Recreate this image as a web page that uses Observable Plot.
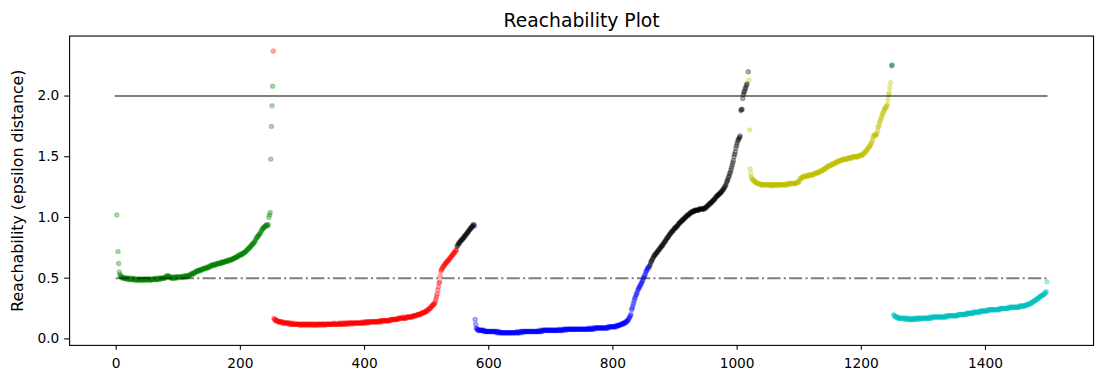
<!DOCTYPE html>
<html>
<head>
<meta charset="utf-8">
<script src="https://cdn.jsdelivr.net/npm/d3@7"></script>
<script src="https://cdn.jsdelivr.net/npm/@observablehq/plot@0.6"></script>
<style>
  html, body { margin: 0; padding: 0; background: #fff; overflow: hidden; }
  #chart { width: 1096px; height: 374px; overflow: hidden; }
</style>
</head>
<body>
<div id="chart"></div>
<script>
// ---- data (reachability values in OPTICS ordering) ----
const chartTitle = "Reachability Plot";
const yLabel = "Reachability (epsilon distance)";
const xTicks = [0, 200, 400, 600, 800, 1000, 1200, 1400];
const yTicks = [0.0, 0.5, 1.0, 1.5, 2.0];
const thresholdSolid = [2.0];
const thresholdDashDot = [0.5];
const thresholdSpan = [0, 1499];

const clusterKeys = ["green", "red", "blue", "yellow", "cyan", "noise"];
const clusterColors = ["#008000", "#ff0000", "#0000ff", "#bfbf00", "#00bfbf", "#000000"];

const greenStart = 6;
const greenReach = [
0.53,0.52,0.51,0.51,0.50,0.51,0.50,0.50,0.50,0.50,
0.50,0.49,0.50,0.50,0.49,0.50,0.49,0.49,0.50,0.49,
0.49,0.49,0.49,0.50,0.49,0.48,0.49,0.49,0.49,0.48,
0.49,0.49,0.49,0.48,0.49,0.49,0.49,0.48,0.49,0.49,
0.49,0.49,0.48,0.49,0.49,0.49,0.49,0.49,0.49,0.48,
0.49,0.49,0.49,0.49,0.49,0.49,0.50,0.49,0.49,0.49,
0.49,0.50,0.49,0.50,0.50,0.49,0.50,0.50,0.50,0.50,
0.50,0.50,0.51,0.50,0.51,0.51,0.52,0.52,0.52,0.51,
0.51,0.51,0.50,0.51,0.50,0.50,0.51,0.50,0.50,0.51,
0.51,0.51,0.50,0.51,0.51,0.51,0.51,0.51,0.51,0.51,
0.51,0.51,0.51,0.52,0.51,0.51,0.52,0.52,0.51,0.52,
0.52,0.52,0.52,0.53,0.53,0.53,0.54,0.53,0.54,0.54,
0.54,0.55,0.55,0.55,0.56,0.56,0.56,0.56,0.57,0.56,
0.57,0.57,0.57,0.57,0.58,0.58,0.58,0.58,0.58,0.59,
0.58,0.59,0.59,0.59,0.59,0.60,0.60,0.60,0.61,0.61,
0.60,0.61,0.61,0.61,0.61,0.62,0.61,0.62,0.62,0.62,
0.62,0.62,0.63,0.62,0.63,0.63,0.63,0.63,0.63,0.64,
0.64,0.64,0.64,0.64,0.64,0.65,0.65,0.65,0.65,0.65,
0.65,0.66,0.66,0.66,0.66,0.67,0.67,0.67,0.67,0.68,
0.68,0.68,0.69,0.69,0.69,0.69,0.70,0.70,0.70,0.71,
0.71,0.71,0.72,0.72,0.73,0.73,0.74,0.74,0.75,0.75,
0.76,0.76,0.77,0.78,0.78,0.79,0.79,0.80,0.81,0.82,
0.83,0.84,0.84,0.85,0.86,0.86,0.87,0.88,0.89,0.90,
0.91,0.91,0.92,0.92,0.93,0.93,0.94,0.94,0.93,0.94,
1.00,1.02,1.04
];

const redStart = 254;
const redReach = [
0.17,0.16,0.16,0.15,0.15,0.15,0.15,0.14,0.14,0.14,
0.14,0.14,0.14,0.13,0.14,0.13,0.13,0.13,0.13,0.13,
0.13,0.13,0.13,0.13,0.12,0.13,0.13,0.12,0.12,0.12,
0.12,0.13,0.12,0.12,0.12,0.12,0.12,0.12,0.12,0.12,
0.12,0.12,0.11,0.12,0.12,0.12,0.11,0.12,0.12,0.12,
0.12,0.11,0.12,0.12,0.12,0.11,0.12,0.12,0.12,0.12,
0.11,0.12,0.12,0.12,0.11,0.12,0.12,0.11,0.12,0.12,
0.12,0.11,0.12,0.12,0.12,0.12,0.11,0.12,0.12,0.12,
0.12,0.12,0.11,0.12,0.12,0.12,0.12,0.12,0.12,0.12,
0.12,0.12,0.12,0.12,0.12,0.12,0.12,0.13,0.12,0.12,
0.12,0.12,0.12,0.12,0.12,0.13,0.12,0.12,0.12,0.13,
0.12,0.12,0.13,0.12,0.13,0.12,0.12,0.13,0.13,0.12,
0.13,0.13,0.12,0.13,0.13,0.13,0.13,0.12,0.13,0.13,
0.13,0.13,0.13,0.13,0.13,0.13,0.13,0.13,0.13,0.13,
0.13,0.13,0.13,0.14,0.13,0.13,0.13,0.14,0.13,0.14,
0.13,0.14,0.14,0.13,0.14,0.14,0.14,0.14,0.14,0.14,
0.14,0.14,0.14,0.14,0.14,0.14,0.14,0.14,0.14,0.15,
0.14,0.14,0.15,0.14,0.15,0.15,0.15,0.15,0.15,0.15,
0.15,0.15,0.15,0.15,0.15,0.15,0.15,0.16,0.15,0.16,
0.16,0.16,0.16,0.16,0.16,0.16,0.16,0.16,0.16,0.17,
0.16,0.17,0.17,0.17,0.17,0.17,0.17,0.17,0.18,0.17,
0.17,0.17,0.17,0.18,0.17,0.18,0.18,0.18,0.18,0.18,
0.18,0.18,0.18,0.18,0.19,0.19,0.19,0.19,0.19,0.19,
0.19,0.20,0.20,0.20,0.20,0.20,0.20,0.21,0.21,0.21,
0.21,0.22,0.22,0.22,0.22,0.23,0.23,0.23,0.24,0.24,
0.25,0.25,0.25,0.26,0.27,0.27,0.28,0.28,0.29,0.29,
0.31,0.33,0.35,0.37,0.40,0.43,0.46,0.47,0.52,0.56,
0.57,0.58,0.59,0.60,0.60,0.61,0.62,0.62,0.63,0.64,
0.64,0.65,0.65,0.66,0.67,0.67,0.68,0.69,0.69,0.70,
0.71,0.71,0.72,0.73,0.73
];

const blueStart = 578;
const blueReach = [
0.16,0.12,0.09,0.08,0.08,0.07,0.07,0.07,0.07,0.07,
0.07,0.07,0.07,0.07,0.06,0.07,0.06,0.06,0.06,0.06,
0.06,0.06,0.06,0.06,0.06,0.06,0.06,0.06,0.06,0.06,
0.06,0.06,0.06,0.06,0.05,0.06,0.06,0.05,0.05,0.06,
0.05,0.05,0.05,0.05,0.05,0.05,0.05,0.05,0.05,0.05,
0.05,0.05,0.05,0.05,0.05,0.05,0.05,0.05,0.05,0.05,
0.05,0.05,0.05,0.05,0.05,0.05,0.05,0.06,0.05,0.05,
0.05,0.05,0.06,0.05,0.06,0.06,0.06,0.05,0.06,0.06,
0.06,0.06,0.06,0.06,0.06,0.06,0.06,0.06,0.06,0.06,
0.06,0.06,0.06,0.06,0.06,0.06,0.06,0.06,0.06,0.06,
0.06,0.06,0.06,0.07,0.06,0.06,0.06,0.07,0.06,0.07,
0.07,0.07,0.07,0.07,0.07,0.07,0.07,0.07,0.07,0.07,
0.07,0.07,0.07,0.07,0.07,0.07,0.07,0.07,0.07,0.07,
0.07,0.07,0.07,0.07,0.07,0.07,0.08,0.07,0.07,0.07,
0.07,0.07,0.08,0.07,0.08,0.08,0.08,0.07,0.08,0.08,
0.08,0.08,0.08,0.08,0.08,0.08,0.08,0.08,0.08,0.08,
0.08,0.08,0.08,0.08,0.08,0.08,0.08,0.08,0.08,0.08,
0.08,0.08,0.08,0.08,0.08,0.08,0.08,0.08,0.08,0.08,
0.08,0.08,0.08,0.09,0.08,0.08,0.08,0.08,0.09,0.08,
0.08,0.09,0.08,0.09,0.09,0.09,0.09,0.09,0.09,0.09,
0.09,0.09,0.09,0.09,0.09,0.09,0.09,0.09,0.09,0.09,
0.09,0.09,0.09,0.09,0.10,0.09,0.10,0.10,0.10,0.10,
0.10,0.10,0.10,0.10,0.10,0.10,0.10,0.11,0.10,0.11,
0.11,0.11,0.11,0.11,0.12,0.12,0.12,0.12,0.12,0.13,
0.13,0.13,0.13,0.14,0.14,0.15,0.15,0.16,0.17,0.18,
0.19,0.20,0.24,0.25,0.27,0.29,0.31,0.33,0.34,0.36,
0.37,0.38,0.40,0.41,0.42,0.43,0.44,0.45,0.46,0.47,
0.48,0.50,0.51,0.52,0.53,0.55,0.56,0.57,0.58,0.59,
0.59,0.60
];

const yellowStart = 1021;
const yellowReach = [
1.40,1.36,1.33,1.32,1.31,1.31,1.30,1.30,1.29,1.29,
1.29,1.28,1.28,1.28,1.28,1.28,1.27,1.27,1.27,1.27,
1.27,1.27,1.27,1.27,1.27,1.27,1.27,1.27,1.27,1.27,
1.27,1.27,1.26,1.27,1.27,1.27,1.26,1.27,1.27,1.27,
1.27,1.27,1.27,1.26,1.27,1.27,1.27,1.27,1.27,1.27,
1.27,1.27,1.27,1.27,1.27,1.27,1.27,1.27,1.27,1.28,
1.27,1.28,1.27,1.28,1.28,1.28,1.28,1.28,1.28,1.28,
1.28,1.28,1.28,1.28,1.28,1.29,1.29,1.29,1.29,1.30,
1.31,1.32,1.32,1.33,1.33,1.33,1.34,1.34,1.34,1.34,
1.34,1.34,1.34,1.35,1.34,1.35,1.35,1.35,1.35,1.35,
1.35,1.35,1.36,1.36,1.36,1.36,1.36,1.37,1.37,1.37,
1.37,1.37,1.38,1.38,1.38,1.38,1.39,1.39,1.39,1.40,
1.40,1.40,1.41,1.41,1.42,1.42,1.42,1.42,1.43,1.43,
1.43,1.43,1.44,1.44,1.44,1.44,1.45,1.45,1.45,1.45,
1.46,1.46,1.46,1.46,1.47,1.47,1.47,1.47,1.47,1.48,
1.48,1.48,1.48,1.48,1.48,1.48,1.48,1.49,1.49,1.49,
1.49,1.49,1.49,1.49,1.49,1.50,1.50,1.50,1.50,1.50,
1.50,1.50,1.50,1.50,1.50,1.51,1.51,1.51,1.51,1.51,
1.51,1.52,1.52,1.53,1.53,1.54,1.54,1.55,1.56,1.56,
1.57,1.58,1.58,1.59,1.60,1.61,1.62,1.64,1.66,1.67,
1.68,1.68,1.68,1.68,1.69,1.71,1.74,1.75,1.77,1.79,
1.80,1.82,1.83,1.85,1.86,1.87,1.89,1.90,1.90,1.91,
1.92,1.93,1.97,2.01,2.03,2.07,2.11
];

const cyanStart = 1252;
const cyanReach = [
0.20,0.19,0.19,0.18,0.18,0.18,0.18,0.17,0.17,0.17,
0.17,0.17,0.17,0.17,0.17,0.17,0.17,0.16,0.17,0.17,
0.16,0.17,0.16,0.17,0.16,0.16,0.17,0.16,0.16,0.16,
0.17,0.16,0.16,0.17,0.16,0.17,0.16,0.17,0.17,0.16,
0.17,0.17,0.17,0.16,0.17,0.17,0.17,0.17,0.17,0.17,
0.17,0.17,0.17,0.17,0.17,0.17,0.17,0.17,0.18,0.17,
0.17,0.18,0.17,0.18,0.18,0.18,0.18,0.18,0.18,0.18,
0.18,0.18,0.18,0.18,0.18,0.18,0.18,0.18,0.18,0.18,
0.18,0.18,0.18,0.18,0.19,0.18,0.19,0.18,0.19,0.19,
0.19,0.19,0.19,0.19,0.19,0.19,0.19,0.19,0.19,0.19,
0.19,0.19,0.19,0.20,0.19,0.20,0.20,0.20,0.20,0.20,
0.20,0.20,0.20,0.20,0.20,0.20,0.20,0.21,0.20,0.21,
0.21,0.21,0.21,0.21,0.21,0.21,0.21,0.21,0.22,0.21,
0.22,0.22,0.22,0.22,0.22,0.22,0.22,0.22,0.22,0.23,
0.22,0.23,0.23,0.23,0.23,0.23,0.23,0.23,0.23,0.23,
0.23,0.24,0.23,0.24,0.24,0.24,0.24,0.24,0.24,0.24,
0.24,0.24,0.24,0.24,0.24,0.24,0.24,0.24,0.24,0.24,
0.25,0.24,0.25,0.25,0.25,0.25,0.25,0.25,0.25,0.25,
0.25,0.25,0.25,0.25,0.25,0.26,0.25,0.26,0.26,0.26,
0.26,0.26,0.26,0.26,0.26,0.26,0.26,0.26,0.26,0.26,
0.26,0.26,0.27,0.26,0.27,0.27,0.27,0.27,0.27,0.27,
0.27,0.27,0.27,0.28,0.28,0.28,0.28,0.28,0.29,0.29,
0.29,0.29,0.30,0.30,0.30,0.31,0.31,0.31,0.32,0.32,
0.32,0.33,0.33,0.33,0.34,0.34,0.35,0.35,0.35,0.36,
0.36,0.36,0.37,0.37,0.38,0.38,0.39
];

const noiseAStart = 549;
const noiseAReach = [
0.76,0.77,0.78,0.79,0.79,0.80,0.81,0.81,0.82,0.82,
0.83,0.84,0.84,0.85,0.86,0.86,0.87,0.88,0.88,0.89,
0.90,0.90,0.91,0.92,0.92,0.93,0.94,0.94
];

const noiseBStart = 860;
const noiseBReach = [
0.61,0.63,0.64,0.65,0.66,0.67,0.68,0.69,0.69,0.70,
0.71,0.71,0.72,0.73,0.73,0.74,0.75,0.75,0.76,0.77,
0.77,0.78,0.79,0.80,0.80,0.81,0.82,0.83,0.83,0.84,
0.85,0.86,0.86,0.87,0.88,0.88,0.89,0.89,0.90,0.91,
0.91,0.92,0.92,0.93,0.93,0.94,0.95,0.95,0.96,0.96,
0.97,0.97,0.98,0.98,0.99,0.99,1.00,1.00,1.01,1.01,
1.02,1.02,1.02,1.03,1.03,1.04,1.04,1.04,1.05,1.05,
1.05,1.05,1.06,1.06,1.06,1.06,1.06,1.06,1.06,1.07,
1.07,1.07,1.07,1.07,1.07,1.07,1.07,1.07,1.08,1.08,
1.08,1.09,1.09,1.10,1.10,1.11,1.11,1.12,1.12,1.13,
1.13,1.14,1.14,1.15,1.15,1.16,1.17,1.17,1.18,1.18,
1.19,1.19,1.20,1.20,1.21,1.21,1.22,1.23,1.23,1.24,
1.25,1.26,1.27,1.29,1.30,1.31,1.33,1.34,1.36,1.37,
1.39,1.41,1.43,1.45,1.47,1.50,1.52,1.54,1.57,1.59,
1.61,1.63,1.64,1.65,1.66,1.67,1.88,1.89,1.89,1.98,
2.01,2.03,2.04,2.06,2.07,2.09,2.10
];

// isolated points (cluster start points and outliers)
const singleIndex   = [1, 3, 4, 5, 249, 250, 251, 252, 253, 577, 1018, 1019, 1020, 1249, 1250, 1499];
const singleReach   = [1.02, 0.72, 0.62, 0.55, 1.48, 1.75, 1.92, 2.08, 2.37, 0.93, 2.20, 2.13, 1.72, 2.25, 2.26, 0.47];
const singleCluster = ["green","green","green","green","green","green","green","green","red","blue","noise","yellow","yellow","noise","cyan","cyan"];

// ---- build table ----
const rows = [];
function addSeries(cluster, start, values) {
  values.forEach((r, i) => rows.push({x: start + i, r, cluster}));
}
addSeries("green", greenStart, greenReach);
addSeries("red", redStart, redReach);
addSeries("blue", blueStart, blueReach);
addSeries("yellow", yellowStart, yellowReach);
addSeries("cyan", cyanStart, cyanReach);
addSeries("noise", noiseAStart, noiseAReach);
addSeries("noise", noiseBStart, noiseBReach);
singleIndex.forEach((x, i) => rows.push({x, r: singleReach[i], cluster: singleCluster[i]}));

const colorOf = Object.fromEntries(clusterKeys.map((k, i) => [k, clusterColors[i]]));

const dotMarks = clusterKeys.map(k => Plot.dot(rows.filter(d => d.cluster === k), {
  x: "x", y: "r", r: 2.1,
  fill: colorOf[k], fillOpacity: 0.3,
  stroke: colorOf[k], strokeOpacity: 0.3, strokeWidth: 1.4
}));

const plot = Plot.plot({
  width: 1110,
  height: 374,
  marginLeft: 70,
  marginRight: 3,
  marginTop: 36,
  marginBottom: 24.7,
  style: {fontFamily: "DejaVu Sans", fontSize: "13.9px", color: "#000", background: "#fff", overflow: "visible"},
  x: {domain: [-75, 1574], label: null},
  y: {domain: [-0.0537, 2.4943], label: null},
  marks: [
    ...dotMarks,
    Plot.ruleY(thresholdSolid, {y: d => d, x1: thresholdSpan[0], x2: thresholdSpan[1],
      stroke: "#000", strokeOpacity: 0.5, strokeWidth: 2.08, strokeLinecap: "square"}),
    Plot.ruleY(thresholdDashDot, {y: d => d, x1: thresholdSpan[0], x2: thresholdSpan[1],
      stroke: "#000", strokeOpacity: 0.5, strokeWidth: 2.08, strokeDasharray: "13.3,3.3,2.1,3.3"}),
    Plot.frame({stroke: "#000", strokeWidth: 1.1}),
    Plot.axisX({ticks: xTicks, tickSize: 5, tickPadding: 8, tickFormat: d3.format("d"), label: null, stroke: "#000", strokeWidth: 1.1}),
    Plot.axisY({ticks: yTicks, tickSize: 5, tickPadding: 5.5, tickFormat: d3.format(".1f"), label: null, stroke: "#000", strokeWidth: 1.1}),
    Plot.text([yLabel], {frameAnchor: "left", dx: -52.5, rotate: -90, textAnchor: "middle", lineAnchor: "middle", fontSize: 16, text: d => d, fill: "#000"}),
    Plot.text([chartTitle], {frameAnchor: "top", dy: -9, lineAnchor: "bottom", fontSize: 19, text: d => d, fill: "#000"})
  ]
});
document.getElementById("chart").appendChild(plot);
</script>
</body>
</html>
